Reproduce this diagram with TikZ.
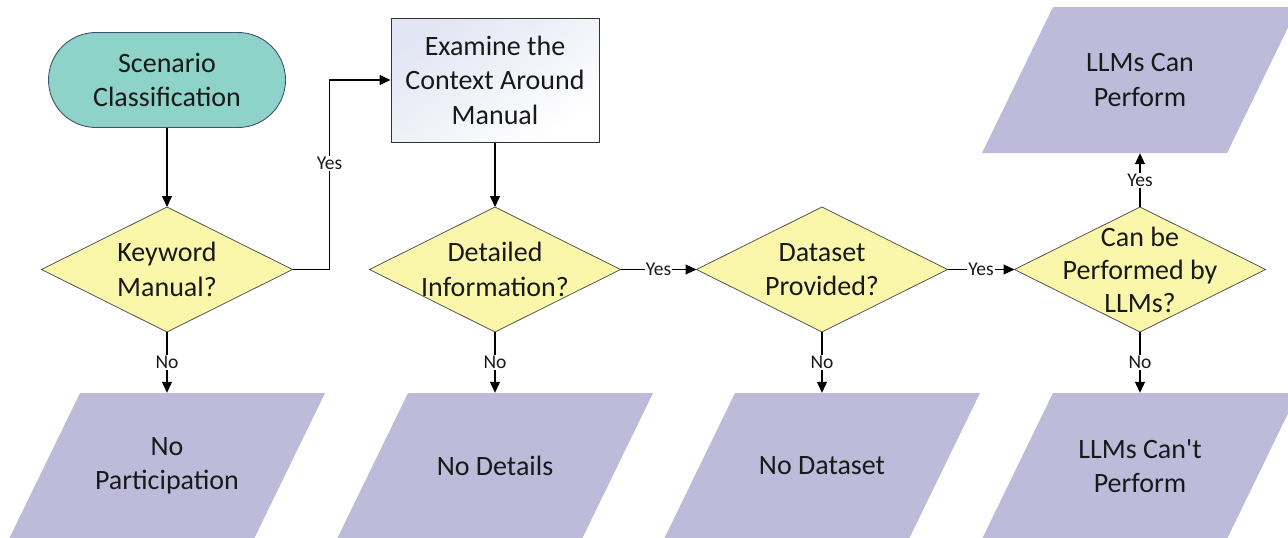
\documentclass[tikz,border=0pt]{standalone}
\usepackage{fontspec}
\setmainfont{Carlito}
\usetikzlibrary{shapes.geometric,shapes.misc,arrows.meta}

\definecolor{termfill}{RGB}{141,211,199}
\definecolor{termline}{RGB}{62,80,118}
\definecolor{decfill}{RGB}{250,246,170}
\definecolor{decline}{RGB}{85,85,85}
\definecolor{outfill}{RGB}{190,187,218}
\definecolor{boxtop}{RGB}{226,229,243}
\definecolor{ink}{RGB}{25,25,25}

% straight apostrophe glyph, bypassing the TeX quote mapping
\newcommand{\straightapos}{\XeTeXglyph\XeTeXcharglyph"0027\relax}

\begin{document}
\begin{tikzpicture}[x=1pt,y=-1pt,
  every node/.style={font=\fontsize{28}{34.5}\selectfont, text=ink, align=center},
  term/.style={rounded rectangle, draw=termline, fill=termfill, line width=0.9pt,
    minimum width=237pt, minimum height=95pt, inner sep=0pt},
  procbox/.style={rectangle, draw=black!80, line width=1pt,
    minimum width=208pt, minimum height=124pt, inner sep=0pt,
    top color=boxtop, bottom color=white, shading angle=35},
  decision/.style={diamond, draw=decline, fill=decfill, line width=0.8pt,
    minimum width=251pt, minimum height=125pt, inner sep=0pt, outer sep=0pt},
  dtext/.style={inner sep=0pt},
  outcome/.style={rectangle, minimum width=316pt, minimum height=146pt, inner sep=0pt,
    path picture={\fill[outfill]
      ([xshift=71pt]path picture bounding box.north west) --
      (path picture bounding box.north east) --
      ([xshift=-71pt]path picture bounding box.south east) --
      (path picture bounding box.south west) -- cycle;}},
  conn/.style={draw=black, line width=1.1pt, -{Triangle[length=11pt,width=10pt]}},
  lbl/.style={font=\fontsize{19.5}{22}\selectfont, fill=white, inner sep=1.2pt}
]
\useasboundingbox (0,0) rectangle (1288,538);

% start and processing step
\node[term] (start) at (167,80) {Scenario\\Classification};
\node[procbox] (ctx) at (495,80) {Examine the\\Context Around\\Manual};

% decisions
\node[decision, label={[dtext]center:{Keyword\\Manual?}}] (d1) at (167,269.5) {};
\node[decision, label={[dtext]center:{Detailed\\Information?}}] (d2) at (495,269.5) {};
\node[decision, label={[dtext]center:{Dataset\\Provided?}}] (d3) at (822,269.5) {};
\node[decision, label={[dtext,font=\fontsize{28}{33}\selectfont]center:{Can be\\Performed by\\LLMs?}}] (d4) at (1140,269.5) {};

% outcomes
\node[outcome] (o1) at (167,466) {No\\Participation};
\node[outcome] (o2) at (495,466) {No Details};
\node[outcome] (o3) at (822,466) {No Dataset};
\node[outcome] (o4) at (1140,466) {LLMs Can\straightapos t\\Perform};
\node[outcome] (o5) at (1140,80) {LLMs Can\\Perform};

% connectors
\draw[conn] (start.south) -- (d1.north);
\draw[conn] (d1.east) -- ++(37,0) |- node[lbl,pos=0.28]{Yes} (ctx.west);
\draw[conn] (ctx.south) -- (d2.north);
\draw[conn] (d2.east) -- node[lbl]{Yes} (d3.west);
\draw[conn] (d3.east) -- node[lbl]{Yes} (d4.west);
\draw[conn] (d4.north) -- node[lbl]{Yes} (o5.south);
\draw[conn] (d1.south) -- node[lbl]{No} (o1.north);
\draw[conn] (d2.south) -- node[lbl]{No} (o2.north);
\draw[conn] (d3.south) -- node[lbl]{No} (o3.north);
\draw[conn] (d4.south) -- node[lbl]{No} (o4.north);
\end{tikzpicture}
\end{document}
